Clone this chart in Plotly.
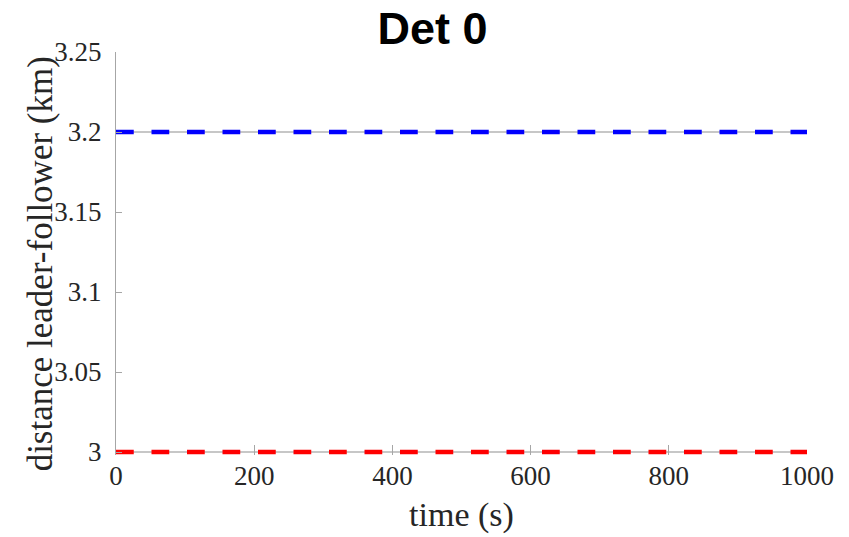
import plotly.graph_objects as go

# Leader-follower separation over time
time_s = [0, 1000]
bound_upper_km = [3.2, 3.2]
bound_lower_km = [3.0, 3.0]
actual_upper_km = [3.2, 3.2]
actual_lower_km = [3.0, 3.0]

x_ticks = [0, 200, 400, 600, 800, 1000]
y_ticks = [3.0, 3.05, 3.1, 3.15, 3.2, 3.25]
y_tick_text = ["3", "3.05", "3.1", "3.15", "3.2", "3.25"]

W, H = 849, 537
L, R = 116, 41.5
T = 51.7
PX_PER_KM = 400 / 0.25           # 400 px covers the 0.25 km span
PAD_PX = 3                        # room below y=3 so the thick line is not clipped
y_min = 3.0 - PAD_PX / PX_PER_KM
B = H - T - 400 - PAD_PX

axis_gray = "#a6a6a6"
text_col = "#262626"
serif = "Liberation Serif, Times New Roman, serif"

fig = go.Figure()

# thin solid gray traces
for ys in (actual_upper_km, actual_lower_km):
    fig.add_trace(go.Scatter(
        x=time_s, y=ys, mode="lines",
        line=dict(color="#b4b4b4", width=1.5),
        showlegend=False, hoverinfo="skip",
    ))

# dashed bounds
fig.add_trace(go.Scatter(
    x=time_s, y=bound_upper_km, mode="lines",
    line=dict(color="#0000ff", width=4.6, dash="17.75px,17.75px"),
    showlegend=False,
))
fig.add_trace(go.Scatter(
    x=time_s, y=bound_lower_km, mode="lines",
    line=dict(color="#ff0000", width=4.6, dash="17.75px,17.75px"),
    showlegend=False,
))

fig.update_layout(
    width=W, height=H,
    margin=dict(l=L, r=R, t=T, b=B, pad=0, autoexpand=False),
    paper_bgcolor="white", plot_bgcolor="white",
    title=dict(
        text="<b>Det 0</b>",
        font=dict(family="Liberation Sans, Arial, sans-serif", size=45, color="black"),
        x=432.5 / W, xref="container", xanchor="center",
        y=1 - 28.5 / H, yref="container", yanchor="middle",
    ),
    xaxis=dict(
        range=[0, 1000],
        tickvals=x_ticks,
        ticks="inside", ticklen=10, tickwidth=1, tickcolor=axis_gray,
        showline=False, showgrid=False, zeroline=False, automargin=False,
        tickfont=dict(family=serif, size=27, color=text_col),
        ticklabelstandoff=2,
        title=dict(text="time (s)", font=dict(family=serif, size=34, color=text_col), standoff=12),
    ),
    yaxis=dict(
        range=[y_min, 3.25],
        tickvals=y_ticks, ticktext=y_tick_text,
        ticks="inside", ticklen=6, tickwidth=1, tickcolor=axis_gray,
        showline=True, linecolor=axis_gray, linewidth=1,
        showgrid=False, zeroline=False, automargin=False,
        tickfont=dict(family=serif, size=27, color=text_col),
        ticklabelstandoff=8,
    ),
    annotations=[dict(
        text="distance leader-follower (km)",
        xref="paper", yref="paper",
        x=(40 - L) / (W - L - R), y=(H - B - 264) / (H - T - B),
        xanchor="center", yanchor="middle",
        textangle=-90, showarrow=False,
        font=dict(family=serif, size=35, color=text_col),
    )],
)

fig.write_html("out.html")
